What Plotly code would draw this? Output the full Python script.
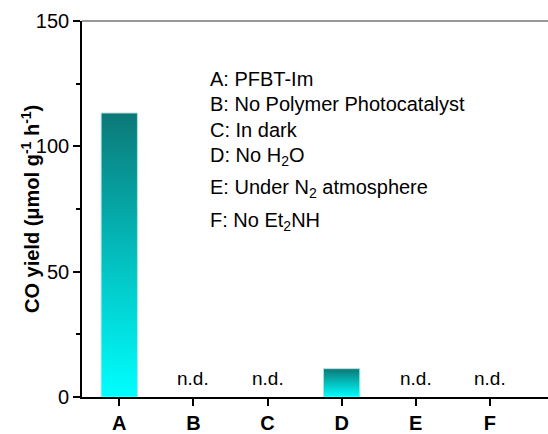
import plotly.graph_objects as go

# Control experiments for photocatalytic CO2 reduction
categories = ["A", "B", "C", "D", "E", "F"]
co_yield = [113.3, None, None, 11.3, None, None]  # None = not detected
legend_lines = [
    "A: PFBT-Im",
    "B: No Polymer Photocatalyst",
    "C: In dark",
    "D: No H<sub>2</sub>O",
    "E: Under N<sub>2</sub> atmosphere",
    "F: No Et<sub>2</sub>NH",
]
y_ticks = [0, 50, 100, 150]
y_minor = [25, 75, 125]

FONT = "Arial, Liberation Sans, sans-serif"
FS = 20
BAR_W = 0.49
PLOT_W = 466

fig = go.Figure()

# Gradient-filled bars (dark teal at top fading to cyan at the base)
for i, (cat, val) in enumerate(zip(categories, co_yield)):
    if val is None:
        continue
    x0, x1 = i - BAR_W / 2, i + BAR_W / 2
    fig.add_trace(go.Scatter(
        x=[x0, x0, x1, x1, x0],
        y=[0, val, val, 0, 0],
        mode="lines",
        fill="toself",
        fillgradient=dict(
            type="vertical",
            colorscale=[[0, "#00ffff"], [0.5, "#03bdbd"], [1, "#0b7877"]],
        ),
        line=dict(color="#a8e4e4", width=1),
        name=cat,
        hoverinfo="skip",
        showlegend=False,
    ))

# "n.d." markers for undetected products
for i, val in enumerate(co_yield):
    if val is None:
        fig.add_annotation(
            x=i, y=7.5, xref="x", yref="y", text="n.d.", showarrow=False,
            xanchor="center", yanchor="middle",
            font=dict(family=FONT, size=19, color="black"),
        )

# Condition key
line_y = [78.5, 104, 130, 156, 188.5, 221.5]
for text, py in zip(legend_lines, line_y):
    fig.add_annotation(
        x=(208 - 82) / PLOT_W, y=1 - (py - 21) / 376, xref="paper", yref="paper",
        text=text, showarrow=False, xanchor="left", yanchor="middle",
        font=dict(family=FONT, size=FS, color="black"),
    )

# Y-axis title
fig.add_annotation(
    x=(30 - 82) / PLOT_W, y=0.5, xref="paper", yref="paper",
    text="<b>CO yield (μmol g<sup>-1</sup> h<sup>-1</sup>)</b>",
    textangle=-90, showarrow=False, xanchor="center", yanchor="middle",
    font=dict(family=FONT, size=FS, color="black"),
)

# Thin frame line along the top of the plot area
fig.add_shape(type="line", xref="paper", yref="paper", x0=0, x1=1, y0=1, y1=1,
              line=dict(color="#333333", width=1.2))
# Keep the open right side of the frame clean
fig.add_shape(type="rect", xref="paper", yref="paper", x0=0.995, x1=1.02,
              y0=0.006, y1=0.994, fillcolor="white", line=dict(width=0),
              layer="above")

fig.update_layout(
    width=548, height=434,
    margin=dict(l=82, r=0, t=21, b=37),
    paper_bgcolor="white", plot_bgcolor="white",
    font=dict(family=FONT, size=FS, color="black"),
    showlegend=False,
    dragmode=False,
)
fig.update_xaxes(
    range=[-0.503, 5.785],
    tickmode="array", tickvals=list(range(len(categories))), ticktext=categories,
    tickfont=dict(family=FONT, size=FS, color="black", weight="bold"),
    ticks="outside", ticklen=7, tickwidth=1.6, tickcolor="black",
    showline=True, linecolor="black", linewidth=1.8, mirror=False,
    showgrid=False, zeroline=False, fixedrange=True,
)
fig.update_yaxes(
    range=[0, 150],
    tickmode="array", tickvals=y_ticks,
    tickfont=dict(family=FONT, size=FS, color="black"),
    ticks="outside", ticklen=7, tickwidth=1.6, tickcolor="black",
    minor=dict(tickmode="array", tickvals=y_minor, ticks="outside",
               ticklen=4, tickwidth=1.6, tickcolor="black", showgrid=False),
    showline=True, linecolor="black", linewidth=1.6, mirror=False,
    showgrid=False, zeroline=False, fixedrange=True,
)

fig.write_html("out.html", config={"displayModeBar": False})
